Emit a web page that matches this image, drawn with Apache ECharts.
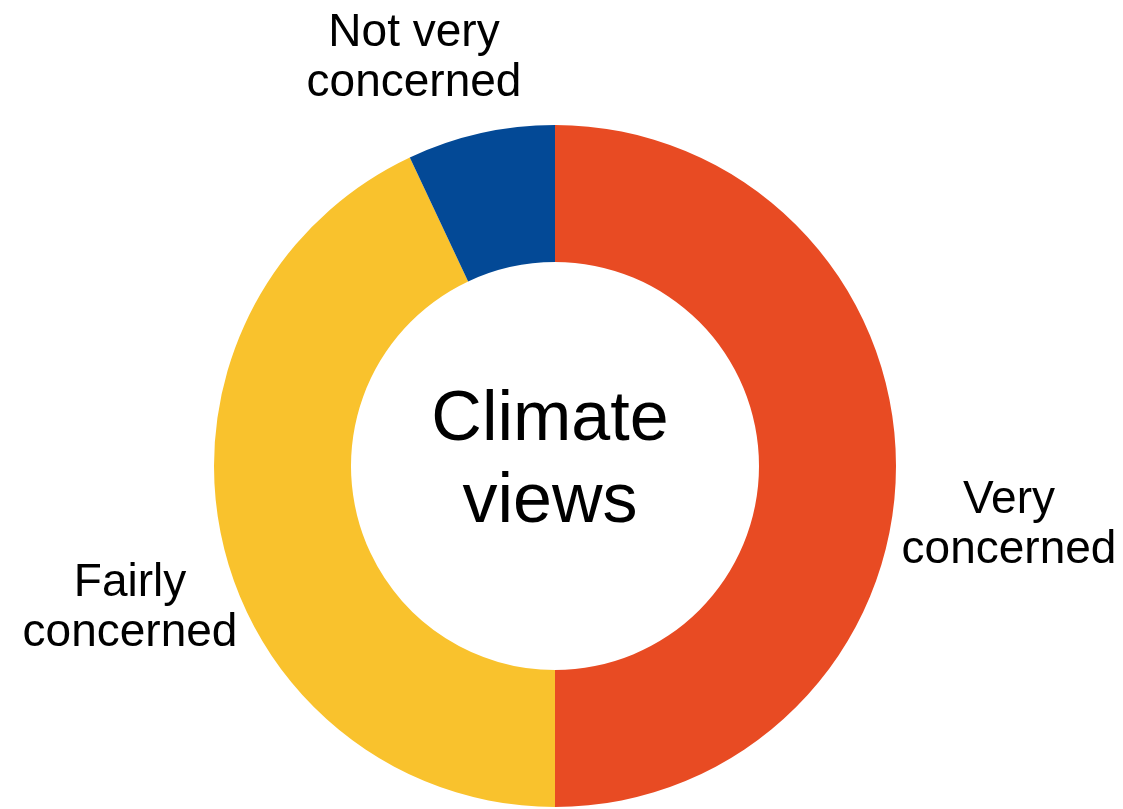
<!DOCTYPE html>
<html>
<head>
<meta charset="utf-8">
<script src="https://cdn.jsdelivr.net/npm/echarts@6/dist/echarts.min.js"></script>
<style>
  html, body { margin: 0; padding: 0; background: #ffffff; }
  #chart { width: 1123px; height: 809px; }
</style>
</head>
<body>
<div id="chart"></div>
<script>
// ---- data ----
const categories = ['Very concerned', 'Fairly concerned', 'Not very concerned'];
const values = [50, 43, 7];
const colors = ['#E84B23', '#F9C22D', '#034996'];
const centerTitle = 'Climate\nviews';

// ---- layout ----
const CX = 555, CY = 466;
const labelOffsets = [[454, 59], [-425, 142], [-141, -408]];
const FONT = '"Liberation Sans", Arial, Helvetica, sans-serif';

const chart = echarts.init(document.getElementById('chart'));
chart.setOption({
  animation: false,
  backgroundColor: '#ffffff',
  graphic: [{
    type: 'text',
    x: CX - 5,
    y: CY - 4,
    style: {
      text: centerTitle,
      fontFamily: FONT,
      fontSize: 70,
      lineHeight: 82,
      fill: '#000000',
      textAlign: 'center',
      textVerticalAlign: 'middle',
      align: 'center',
      verticalAlign: 'middle'
    }
  }],
  series: [{
    type: 'pie',
    center: [CX, CY],
    radius: [204, 341],
    startAngle: 90,
    clockwise: true,
    silent: true,
    emphasis: { disabled: true },
    itemStyle: { borderWidth: 0 },
    label: {
      show: true,
      position: 'outside',
      alignTo: 'none',
      overflow: 'none',
      fontFamily: FONT,
      fontSize: 46,
      lineHeight: 50,
      color: '#000000',
      align: 'center',
      formatter: p => p.name.replace(/ (\S+)$/, '\n$1')
    },
    labelLine: { show: false },
    labelLayout: p => ({
      x: CX + labelOffsets[p.dataIndex][0],
      y: CY + labelOffsets[p.dataIndex][1],
      align: 'center',
      verticalAlign: 'middle'
    }),
    data: categories.map((c, i) => ({
      name: c,
      value: values[i],
      itemStyle: { color: colors[i] }
    }))
  }]
});
</script>
</body>
</html>
